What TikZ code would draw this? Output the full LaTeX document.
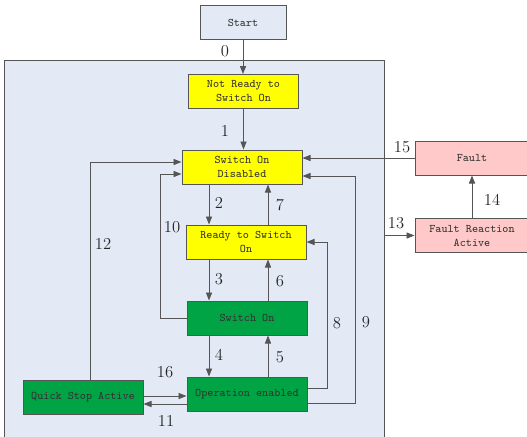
\documentclass[tikz,border=0pt]{standalone}
\usetikzlibrary{arrows.meta}

\definecolor{panel}{HTML}{E4EAF5}
\definecolor{ready}{HTML}{FFFF00}
\definecolor{enabled}{HTML}{00A445}
\definecolor{faulty}{HTML}{FFC9C9}
\definecolor{wire}{HTML}{555555}

\begin{document}
\begin{tikzpicture}[
  x=0.75pt, y=-0.75pt,
  state/.style={
    rectangle,
    draw=wire,
    line width=0.75pt,
    minimum width=90pt,
    minimum height=25.5pt,
    inner sep=0pt,
    align=center,
    text=black!80,
    font=\ttfamily\fontsize{8.7}{10.5}\selectfont
  },
  edge/.style={
    -{Triangle[length=6pt,width=4.6pt]},
    draw=wire,
    line width=0.7pt
  },
  label/.style={
    inner sep=1pt,
    text=black!85,
    font=\fontsize{12.5}{14}\selectfont
  }
]

\path[use as bounding box] (0,0) rectangle (527,436);

\node[draw=wire, line width=0.75pt, fill=panel, minimum width=285pt,
  minimum height=285pt, inner sep=0pt] (frame) at (194,250) {};

\node[state, fill=panel, minimum width=64.5pt] (start) at (243,22.5) {Start};
\node[state, fill=ready, minimum width=83pt] (notready) at (243.5,91.5) {Not Ready to\\Switch On};
\node[state, fill=ready] (sod) at (242,167) {Switch On\\Disabled};
\node[state, fill=ready] (rdy) at (246,242) {Ready to Switch\\On};
\node[state, fill=enabled] (swon) at (247,318) {Switch On};
\node[state, fill=enabled] (open) at (247,394) {Operation enabled};
\node[state, fill=enabled] (qsa) at (83,397) {Quick Stop Active};
\node[state, fill=faulty, minimum width=85.5pt] (fault) at (472,158) {Fault};
\node[state, fill=faulty, minimum width=85.5pt] (fra) at (472,235.5) {Fault Reaction\\Active};

\coordinate (dn) at (209,0);
\coordinate (up) at (268,0);
\coordinate (c10) at (160,174);
\coordinate (c12) at (90,162);
\coordinate (c8) at (327,388);
\coordinate (c9) at (355,403);
\coordinate (c9t) at (355,176);
\coordinate (c16) at (0,396);
\coordinate (c11) at (0,404);

\draw[edge] (start.south) -- (start.south |- notready.north);
\draw[edge] (notready.south) -- (notready.south |- sod.north);

\draw[edge] (sod.south -| dn) -- (rdy.north -| dn);
\draw[edge] (rdy.north -| up) -- (sod.south -| up);
\draw[edge] (rdy.south -| dn) -- (swon.north -| dn);
\draw[edge] (swon.north -| up) -- (rdy.south -| up);
\draw[edge] (swon.south -| dn) -- (open.north -| dn);
\draw[edge] (open.north -| up) -- (swon.south -| up);

\draw[edge] (swon.west) -| (c10) -- (sod.west |- c10);
\draw[edge] (qsa.north -| c12) |- (sod.west |- c12);
\draw[edge] (open.east |- c8) -- (c8) |- (rdy.east);
\draw[edge] (open.east |- c9) -- (c9) -- (c9t) -- (sod.east |- c9t);

\draw[edge] (qsa.east |- c16) -- (open.west |- c16);
\draw[edge] (open.west |- c11) -- (qsa.east |- c11);

\draw[edge] (fault.west) -- (sod.east |- fault.west);
\draw[edge] (fra) -- (fault);
\draw[edge] (frame.east |- fra.west) -- (fra.west);

\node[label] at (225,51) {0};
\node[label] at (225,131) {1};
\node[label] at (219,203) {2};
\node[label] at (280,205) {7};
\node[label] at (219,279) {3};
\node[label] at (280,281) {6};
\node[label] at (219,355) {4};
\node[label] at (280,357) {5};
\node[label] at (172,227) {10};
\node[label] at (103,244) {12};
\node[label] at (337,323) {8};
\node[label] at (366,322) {9};
\node[label] at (165,372) {16};
\node[label] at (166,421) {11};
\node[label] at (402,147) {15};
\node[label] at (492,200) {14};
\node[label] at (396,223) {13};

\end{tikzpicture}
\end{document}
